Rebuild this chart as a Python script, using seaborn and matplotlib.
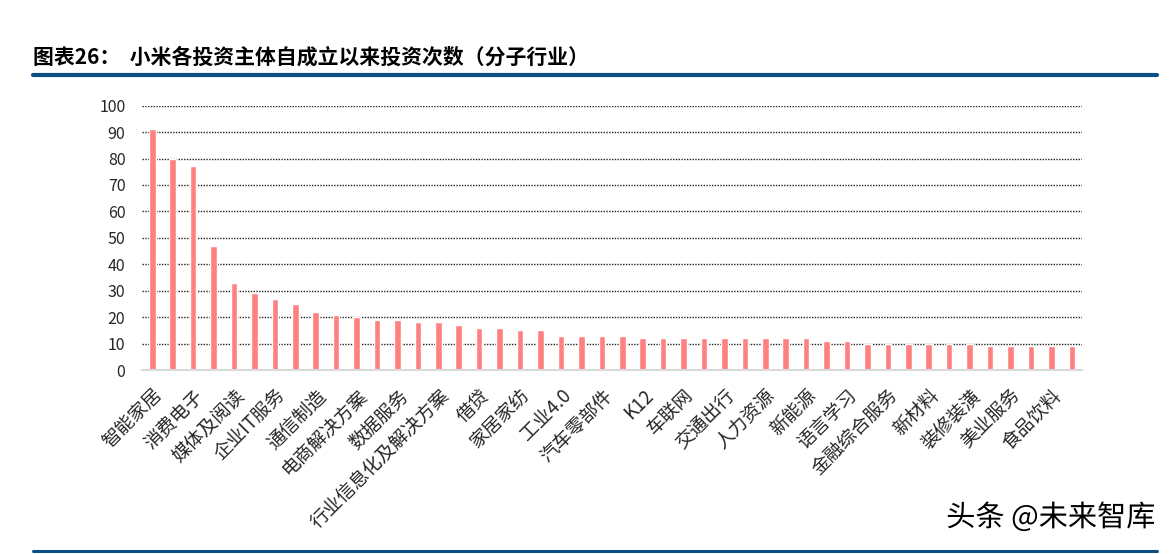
import matplotlib
matplotlib.use('Agg')
import matplotlib.pyplot as plt
import matplotlib.patheffects as pe
import seaborn as sns
import pandas as pd
import numpy as np

# ============================================================
# 数据: 小米各投资主体自成立以来投资次数 (分子行业)
# ============================================================
counts = [91, 80, 77, 47, 33, 29, 27, 25, 22, 21, 20, 19, 19, 18, 18, 17,
          16, 16, 15, 15, 13, 13, 13, 13, 12, 12, 12, 12, 12, 12, 12, 12,
          12, 11, 11, 10, 10, 10, 10, 10, 10, 9, 9, 9, 9, 9]

# 原图只显示奇数位置的行业标签
shown_labels = ['智能家居', '消费电子', '媒体及阅读', '企业IT服务', '通信制造',
                '电商解决方案', '数据服务', '行业信息化及解决方案', '借贷', '家居家纺',
                '工业4.0', '汽车零部件', 'K12', '车联网', '交通出行', '人力资源',
                '新能源', '语言学习', '金融综合服务', '新材料', '装修装潢',
                '美业服务', '食品饮料']

y_ticks = [0, 10, 20, 30, 40, 50, 60, 70, 80, 90, 100]

TITLE = '图表26：  小米各投资主体自成立以来投资次数（分子行业）'
WATERMARK = '头条 @未来智库'

sns.set_style('white')
plt.rcParams['font.family'] = ['Noto Sans CJK SC', 'DejaVu Sans']

df = pd.DataFrame({'idx': np.arange(len(counts)), 'count': counts})

fig = plt.figure(figsize=(11.72, 5.54), dpi=100)
ax = fig.add_axes([0.1212, 0.3321, 0.802, 0.4771])

sns.barplot(data=df, x='idx', y='count', color='#FF8080', saturation=1,
            width=0.32, native_scale=True, ax=ax)

ax.set_xlim(-0.5, len(counts) - 0.5)
ax.set_ylim(0, 100)
ax.set_yticks(y_ticks)
ax.set_yticklabels([str(v) for v in y_ticks], fontsize=11.5)
ax.set_xticks(np.arange(0, len(counts), 2))
ax.set_xticklabels(shown_labels, rotation=45, ha='right',
                   rotation_mode='anchor', fontsize=13.5)
ax.tick_params(axis='both', length=0)
ax.tick_params(axis='x', pad=11)
ax.tick_params(axis='y', pad=12)
ax.set_xlabel('')
ax.set_ylabel('')

for y in y_ticks[1:]:
    ax.axhline(y, color='#222222', linestyle=(0, (1, 1)), linewidth=1.0, zorder=0)

for s in ['top', 'right', 'left']:
    ax.spines[s].set_visible(False)
ax.spines['bottom'].set_color('#D9D9D9')
ax.spines['bottom'].set_linewidth(1.5)

# 标题与上下分隔线
fig.text(33 / 1172, 1 - 57 / 554, TITLE, fontsize=15, fontweight='bold',
         ha='left', va='center', color='black')
fig.add_artist(plt.Line2D([33 / 1172, 1157 / 1172], [1 - 75 / 554, 1 - 75 / 554],
                          color='#0B4F84', linewidth=3))
fig.add_artist(plt.Line2D([33 / 1172, 1157 / 1172], [1 - 551 / 554, 1 - 551 / 554],
                          color='#0B4F84', linewidth=2.2))

fig.text(1155 / 1172, 1 - 518 / 554, WATERMARK, fontsize=21, ha='right',
         va='center', color='black',
         path_effects=[pe.withStroke(linewidth=2, foreground='white')])

plt.savefig('out.png', dpi=100)
